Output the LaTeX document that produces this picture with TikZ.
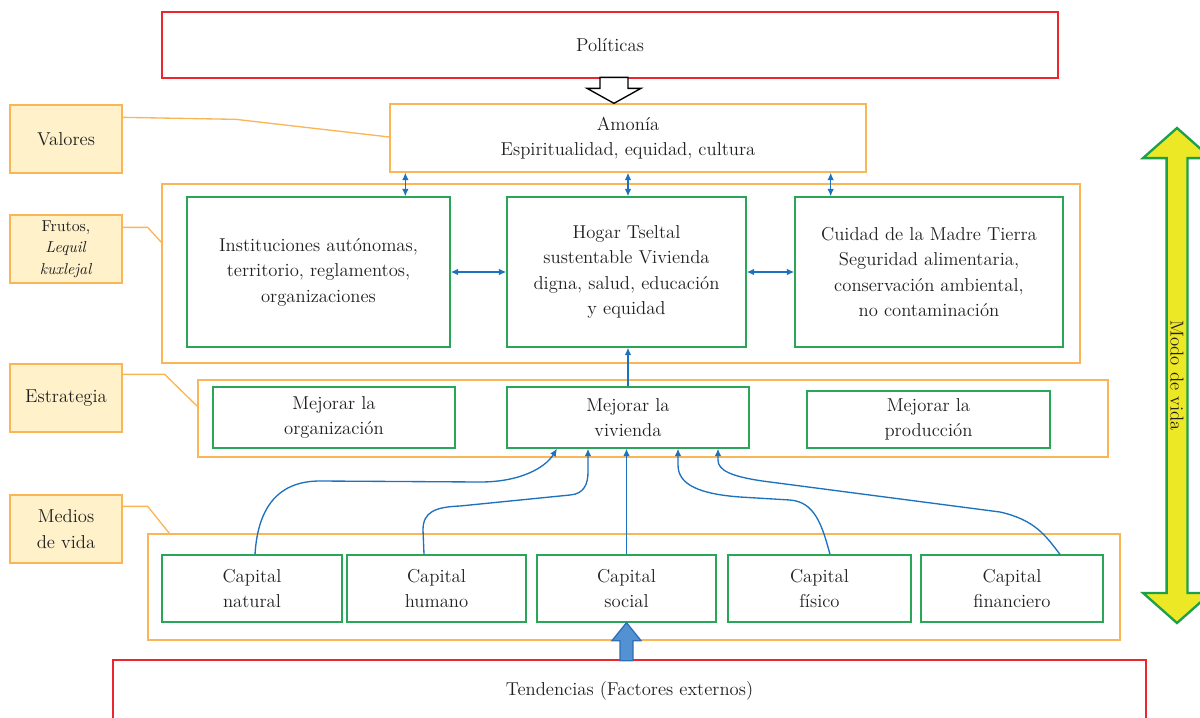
\documentclass[tikz,border=0pt]{standalone}
\usepackage{xcolor}
\usepackage{tikz}
\usetikzlibrary{arrows.meta,shapes.arrows}
\definecolor{polRed}{RGB}{236,38,46}
\definecolor{lineOrange}{RGB}{250,182,86}
\definecolor{boxGreen}{RGB}{42,166,88}
\definecolor{flowBlue}{RGB}{28,114,190}
\definecolor{tagFill}{RGB}{255,241,202}
\definecolor{modoYellow}{RGB}{237,232,38}
\definecolor{modoGreen}{RGB}{28,160,76}
\definecolor{blockBlue}{RGB}{82,146,210}
\definecolor{blockEdge}{RGB}{46,112,182}
\tikzset{
box/.style = {rectangle, draw=#1, line width=0.8pt, align=center,
              inner sep=2pt, text=black!88},
box/.default = boxGreen, % colour of the frame
sz/.style 2 args = {minimum width=#1, minimum height=#2},
tag/.style = {box=lineOrange, fill=tagFill, sz={67.2pt}{40.8pt}},
frame/.style = {rectangle, draw=lineOrange, line width=0.8pt},
link/.style = {draw=lineOrange, line width=0.8pt},
flow/.style = {draw=flowBlue, line width=0.8pt, -{Latex[length=4.5pt,width=4pt]}},
both/.style = {draw=flowBlue, line width=0.8pt, {Latex[length=4.5pt,width=4pt]}-{Latex[length=4.5pt,width=4pt]}},
modo/.style = {double arrow, draw=modoGreen, fill=modoYellow, line width=1.4pt,
               rotate=-90, minimum height=297pt, minimum width=40.8pt,
               double arrow head extend=10.5pt, double arrow tip angle=97,
               inner sep=0pt, text=black!88}
}

\begin{document}
\begin{tikzpicture}[x=0.6pt, y=-0.6pt, font=\fontsize{11.2}{15.3}\selectfont]
  \useasboundingbox (0,0) rectangle (1200,717);

  % Frames
    \node[frame, sz={550.8pt}{107.4pt}] (fruFrame) at (621,273.5) {};
    \node[frame, sz={546pt}{46.2pt}] (estFrame) at (653,418.5) {};
    \node[frame, sz={583.2pt}{63.6pt}] (medFrame) at (634,587) {};

  % Top and bottom boxes
    \node[box=polRed, sz={537.6pt}{39.6pt}] (pol) at (610,45) {Políticas};
    \node[box=polRed, sz={619.8pt}{37.2pt}] (tend) at (629.5,691) {Tendencias (Factores externos)};
    \node[box=lineOrange, sz={285.6pt}{40.8pt}] (amo) at (628,138) {Amonía\\Espiritualidad, equidad, cultura};

  % Labels
    \node[tag] (val) at (66,139) {Valores};
    \node[tag, font=\fontsize{9.5}{12.9}\selectfont] (fru) at (66,249) {Frutos,\\\textit{Lequil}\\\textit{kuxlejal}};
    \node[tag] (est) at (66,398) {Estrategia};
    \node[tag] (med) at (66,529) {Medios\\de vida};

  % Frutos
    \node[box, sz={157.8pt}{90pt}] (inst) at (318.5,272) {Instituciones autónomas,\\territorio, reglamentos,\\organizaciones};
    \node[box, sz={143.4pt}{90pt}] (hog) at (626.5,272) {Hogar Tseltal\\sustentable Vivienda\\digna, salud, educación\\y equidad};
    \node[box, sz={160.8pt}{90pt}] (cui) at (929,272) {Cuidad de la Madre Tierra\\Seguridad alimentaria,\\conservación ambiental,\\no contaminación};

  % Estrategia
    \node[box, sz={145.2pt}{36.6pt}] (morg) at (334,417.5) {Mejorar la\\organización};
    \node[box, sz={145.2pt}{36.6pt}] (mviv) at (628,417.5) {Mejorar la\\vivienda};
    \node[box, sz={145.8pt}{34.2pt}] (mpro) at (928.5,419.5) {Mejorar la\\producción};

  % Capitales
    \node[box, sz={108pt}{40.2pt}] (cnat) at (252,588.5) {Capital\\natural};
    \node[box, sz={107.4pt}{40.2pt}] (chum) at (436.5,588.5) {Capital\\humano};
    \node[box, sz={107.4pt}{40.2pt}] (csoc) at (626.5,588.5) {Capital\\social};
    \node[box, sz={109.8pt}{40.2pt}] (cfis) at (819.5,588.5) {Capital\\físico};
    \node[box, sz={109.2pt}{40.2pt}] (cfin) at (1012,588.5) {Capital\\financiero};

  % Modo de vida
    \node[modo] (modo) at (1177,375.5) {Modo de vida};

  % Label lines
    \draw[link] ([yshift=-7.8pt]val.north east) -- ++(113,2) -- ([yshift=0.6pt]amo.west);
    \draw[link] ([yshift=-7.8pt]fru.north east) -- ++(25,0) -- ([yshift=-35.4pt]fruFrame.north west);
    \draw[link] ([yshift=-6.6pt]est.north east) -- ++(42,0) -- ([yshift=-16.2pt]estFrame.north west);
    \draw[link] ([yshift=-7.2pt]med.north east) -- ++(25,0) -- ([xshift=13.2pt]medFrame.north west);

  % Block arrows
    \path (pol.south |- amo.north) ++(4,0) coordinate (pTip);
    \draw[line width=0.8pt, fill=white] (pTip) -- ++(-27,-15) -- ++(13,0) -- ++(0,-11)
      -- ++(28,0) -- ++(0,11) -- ++(13,0) -- cycle;
    \draw[draw=blockEdge, fill=blockBlue, line width=0.8pt] (csoc.south) -- ++(14.5,18) -- ++(-8,0)
      -- ++(0,20) -- ++(-13,0) -- ++(0,-20) -- ++(-8,0) -- cycle;

  % Arrows
    \coordinate (aL) at ([xshift=9.6pt]amo.south west);
    \coordinate (aR) at ([xshift=-21.6pt]amo.south east);
    \draw[both] (aL) -- (aL |- inst.north);
    \draw[both] (amo.south) -- (amo.south |- hog.north);
    \draw[both] (aR) -- (aR |- cui.north);
    \draw[both] (inst) -- (hog);
    \draw[both] (hog) -- (cui);
    \draw[flow] (mviv.north) -- (mviv.north |- hog.south);
    \draw[flow] (csoc.north) -- (csoc.north |- mviv.south);
    \draw[flow] ([xshift=1.8pt]cnat.north) .. controls (258,505) and (280,481) .. (320,481)
      -- (480,482) .. controls (520,482) and (545,468) .. ([xshift=-42.6pt]mviv.south);
    \draw[flow] ([xshift=-7.5pt]chum.north) -- (423,530) .. controls (423,512) and (435,507) .. (460,506)
      -- (570,495) .. controls (584,494) and (588,484) .. (588,472) -- ([xshift=-24pt]mviv.south);
    \draw[flow] ([xshift=6.3pt]cfis.north) .. controls (822,525) and (815,502) .. (790,500)
      -- (740,497) .. controls (700,494) and (678,485) .. (678,465) -- ([xshift=30pt]mviv.south);
    \draw[flow] ([xshift=28.8pt]cfin.north) .. controls (1045,535) and (1035,520) .. (1000,512)
      -- (770,482) .. controls (730,477) and (718,470) .. (718,460) -- ([xshift=54pt]mviv.south);
  \end{tikzpicture}
\end{document}
